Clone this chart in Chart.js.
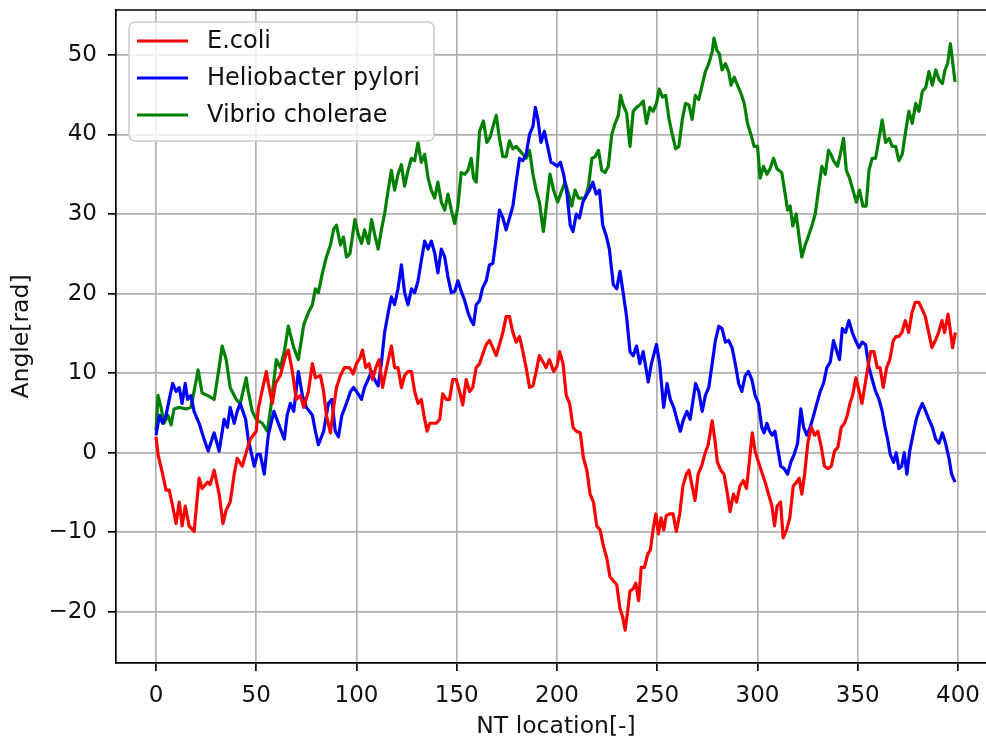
<!DOCTYPE html>
<html>
<head>
<meta charset="utf-8">
<script src="https://cdn.jsdelivr.net/npm/chart.js@4/dist/chart.umd.min.js"></script>
<style>
  html, body { margin: 0; padding: 0; background: #fff; overflow: hidden; }
  #wrap { width: 1010px; height: 742px; }
</style>
</head>
<body>
<div id="wrap"><canvas id="c" width="1010" height="742"></canvas></div>
<script>
// Cumulative angle along the sequence for three bacterial genomes
const ecoliX = [0,1,3.3,5,6.6,8.3,10,11.6,13,14.6,16.5,19,21.5,23,25.7,27,29,31.5,33.4,35,37,39,40.5,43,44.7,47,50,51,53,55,56,58,59.6,62,64.6,66,68,70,72,73.7,76,78,79.5,82,83.6,85,87,88.6,90,92,94,96.5,98.3,100,101.7,103,104.6,106.3,108,109.6,111.3,113,114.6,116.3,117.4,119,120.7,122.4,124,125.7,127.4,129,130.7,132.3,134,135.2,136.5,138.2,139.8,141.5,143,144.8,146.4,148,149.7,151.4,153,154.7,156.4,158,159.7,161.4,163,164.7,166.3,168,169.7,171.3,173,174.6,176.3,178,179.6,181.3,183,184.6,186.3,188,189.6,191.2,193,194.5,196.2,198.3,200,201.3,203,204.6,206.3,208,209.6,211.6,213.2,214.9,216.5,218.2,219.8,221.5,223.1,224.8,226.4,228.1,229.8,231.4,232.7,234,235.4,236.4,238,239.3,240.7,242,243.6,245.3,246.6,247.9,249.3,250.6,251.9,253.2,254.5,256.2,257.9,259.5,261.2,262.8,264.5,265.8,267.4,268.8,270.4,272.1,273.7,275.4,277.4,278.7,280,281.7,283.3,285,286.3,288,289.6,291.2,292.9,294.5,295.9,297.4,298.8,300.5,302.2,303.8,305.5,307.2,308.5,309.8,311.5,312.8,314.5,316.1,317.8,319.5,320.8,322.1,323.5,325.1,326.8,328.5,330.1,331.8,333.4,335.1,336.8,338.4,340.1,341.8,343.4,344.8,346.1,347.4,349.1,350.7,352.1,353.4,354.7,356.4,358.1,359.7,361.1,362.7,364.4,366,367.7,369,370.4,372,373.7,375.4,377,378.7,380.4,382,383.7,385.4,387,388.7,390.3,392,393.3,395,396.3,397.3,398.7];
const ecoliY = [2.0,-0.2,-2.7,-4.7,-4.7,-6.7,-8.9,-6.2,-9.2,-6.7,-9.2,-9.9,-3.2,-4.5,-3.7,-4.0,-2.2,-5.2,-8.9,-7.2,-6.2,-2.7,-0.7,-1.7,-0.2,1.7,2.7,5.5,7.9,10.2,8.7,6.2,8.7,9.7,12.2,12.9,10.2,6.7,7.2,5.7,7.7,11.2,9.4,9.7,7.7,4.7,2.5,5.7,8.2,9.7,10.7,10.7,9.9,11.2,11.9,12.9,10.7,11.2,9.2,10.7,11.7,8.2,10.2,12.2,13.4,10.7,10.7,8.2,9.7,10.2,10.2,7.7,6.2,6.7,4.2,2.7,3.7,3.7,3.7,4.2,7.4,6.7,6.7,9.2,9.2,7.7,6.0,9.2,7.7,8.2,10.7,11.2,12.4,13.6,14.1,13.2,12.2,13.6,15.1,17.1,17.1,15.1,13.9,14.6,12.7,10.7,8.2,8.4,10.2,12.2,11.4,10.7,11.7,10.2,10.9,12.7,11.2,7.2,6.2,3.2,2.7,2.5,-0.7,-2.2,-5.2,-6.2,-9.2,-9.7,-11.7,-13.2,-15.6,-16.1,-16.6,-19.6,-20.6,-22.3,-19.6,-17.4,-17.1,-16.4,-18.6,-14.4,-14.4,-12.7,-12.2,-9.7,-7.7,-10.2,-8.2,-9.7,-7.9,-7.7,-7.7,-9.9,-7.7,-4.2,-2.7,-2.2,-4.2,-6.0,-2.7,-1.7,-0.2,1.0,4.0,1.7,-1.2,-2.2,-2.7,-5.2,-7.4,-5.2,-6.2,-4.2,-3.5,-4.5,-1.2,2.5,0.2,-1.2,-2.5,-3.7,-5.2,-6.7,-9.2,-6.7,-6.2,-10.7,-9.7,-8.2,-4.2,-3.7,-3.2,-5.2,-2.7,1.2,3.2,2.2,2.7,0.7,-1.7,-2.0,-1.7,0.2,0.7,3.2,3.7,4.7,6.2,7.2,9.4,7.7,6.2,8.2,10.2,12.7,12.7,10.7,10.7,8.2,10.7,11.7,14.1,14.6,14.6,15.1,16.6,15.1,17.6,18.9,18.9,18.1,17.1,15.1,13.2,14.1,15.1,16.6,15.1,17.4,15.1,13.2,15.1];

const pyloriX = [0,1.7,3.3,5,6.6,8.3,10,11.6,13,14.6,15.7,17.4,19,21.5,24,26,29,31.5,34,35.6,37,39,40.5,42,44.7,46,49,50.5,52,54,56,58.8,61,64,65.4,67,68.7,71,73,75,78,79.5,81,83.6,86,87.7,89.4,91,92.7,95,97,98.5,100,102.5,104,105.8,107.5,109,110.8,112.4,114,115.8,117.4,119,120.7,122.4,124,125.7,127.4,129,130.7,132.3,134,135.7,137.3,139,140.6,142.3,144,145.6,147.3,149,150.6,152.2,154,155.6,157.2,158.4,159.7,161.4,163,164.7,166.3,168,169.7,171.3,173,174.6,176.3,178,179.6,181.3,183,184.6,186.3,188,189.2,190.4,192,193.7,195.3,197,198.5,200.2,201.7,203.3,205,206.6,208,209.6,211.2,212.9,214.5,216.2,217.9,219.5,221.2,222.8,224.5,226.1,228.1,229.8,231.4,233,234.7,236.4,238,239.7,241.3,243,245.5,247.1,249.6,251.2,253.2,254.9,256.5,258.2,259.8,261.5,263.1,264.8,266.4,267.8,269.1,270.7,272.4,274,275.7,277.4,279,280.7,282.3,284,285.6,287.3,288.9,290.6,292.2,293.9,295.5,297.2,298.8,300.5,302.1,303.3,304.7,306,307.3,308.7,310,311.6,313.3,315,316.6,318.3,320,321.6,323,324.6,326.3,328,329.6,331.3,332.9,334.6,336.3,337.9,339.6,340.9,342.3,343.9,345.6,347.3,348.9,350.6,352.2,353.9,355.6,357.2,358.9,360.6,362.2,363.6,364.9,366.2,367.9,369.2,370.5,371.9,373.2,374.5,375.9,377.5,379.2,380.5,382.2,383.9,385.5,387.2,388.9,390.5,392.2,393.8,395.5,396.8,398.5];
const pyloriY = [2.2,4.7,3.7,4.7,6.7,8.7,7.7,8.2,6.2,8.7,6.7,7.2,5.2,3.7,1.7,0.2,2.5,0.2,4.2,3.2,5.7,3.7,5.2,6.2,4.2,1.7,-1.7,-0.2,-0.2,-2.7,2.2,5.2,3.7,1.7,4.7,6.2,5.2,10.2,7.2,5.7,4.7,2.7,1.0,2.7,6.2,6.7,2.7,2.0,4.7,6.2,7.7,8.2,7.7,6.7,8.2,9.2,10.2,9.2,8.4,11.2,15.1,17.6,19.6,18.6,20.6,23.6,20.1,18.6,20.6,20.1,21.6,24.1,26.6,25.6,26.6,25.1,22.6,25.6,24.6,22.1,20.1,20.3,21.6,20.3,19.1,17.6,16.6,16.1,18.6,19.1,20.8,21.6,23.6,23.8,27.0,30.5,29.5,28.0,29.5,31.0,34.0,37.0,36.7,37.5,40.0,41.0,43.4,42.0,39.0,40.4,38.5,36.5,36.3,36.0,36.5,35.0,32.5,28.6,27.8,30.0,29.5,31.5,32.3,33.0,34.0,32.5,33.0,28.6,27.3,25.6,21.1,20.6,22.8,20.1,17.1,12.7,12.2,13.4,11.2,12.7,8.9,11.2,13.6,11.2,5.7,8.7,6.7,5.7,4.2,2.7,4.2,5.2,4.2,6.5,8.7,7.7,5.2,7.2,8.2,11.2,14.1,15.9,15.6,13.9,14.1,13.2,11.2,8.7,7.7,9.7,10.2,9.2,7.2,6.2,3.2,2.5,3.7,2.7,2.2,2.7,0.7,-1.7,-2.0,-2.7,-1.2,-0.2,1.2,5.5,3.2,2.2,3.2,4.7,6.2,7.7,8.7,10.7,11.4,14.1,12.7,11.7,15.6,15.1,16.6,15.1,14.1,13.2,13.9,13.6,10.7,9.2,7.7,6.7,5.2,3.2,1.7,-0.2,-1.2,0.0,-2.0,-1.7,0.0,-2.7,0.2,2.2,4.2,5.2,6.2,5.2,4.2,3.2,1.7,1.2,2.5,1.2,-0.7,-2.7,-3.7];

const choleraeX = [0,1,2.5,4,6,7.5,9,11.6,15,17.4,19,21,23,25.7,29,31.5,33,35,37,40,42,45,46,48,50,53,55.5,57,60,62,64,66,68.7,71,73.7,76,78,79.5,81,83,85,87,88.6,90,92,93.5,95,96.7,99.2,100.8,102.5,104,106,107.5,109,110.8,112.4,114,115.8,117.4,119,120.7,122.4,124,125.7,127.4,129,130.7,132.3,134,135.7,137.3,139,140.6,142.3,144,145.6,147.3,149,150.6,152.2,154,155.6,157.2,158.4,159.7,161.4,163.3,165,166.7,168.3,169.7,171.3,173,174.6,176.3,178,179.6,181.3,183,184.6,186.3,188,189.6,191.2,193.2,194.9,196.5,198.3,200.3,202.5,204,205.8,207.4,209,210.7,212.4,214,215.7,217.4,219,220.7,222.3,224,225.6,227.3,229,230.6,231.7,233,234.7,236.4,238,239.7,241.3,243,244.6,246.3,248,249.6,251,252.6,254.2,255.9,257.5,259.2,260.8,262.5,264.1,265.8,267.4,269,270.7,272.4,274,275.7,277.4,278.3,279.7,281,282.3,284,285.6,286.8,288.4,290,291.7,293.4,295,296.7,298.3,300,301.3,303,304.7,306.3,308,309.7,312.1,313.8,315,316.3,317.6,319.3,321,322.1,323.8,325.5,327.1,328.8,330.4,332.1,333.8,335.4,336.6,337.9,339.9,341.3,342.9,344.3,345.9,347.6,349.3,350.9,352.6,354.2,355.6,357.2,358.9,360.6,362.2,363.9,365.6,367.2,368.9,370.5,372.2,373.9,375.5,377.2,378.9,380.5,382.2,383.9,385.5,387.2,388.9,390.5,392.2,393.5,394.8,396.2,397.2,398.5];
const choleraeY = [2.7,7.2,5.7,3.7,4.7,3.5,5.5,5.7,5.5,5.7,7.7,10.4,7.5,7.2,6.7,10.7,13.4,11.7,8.2,6.7,6.2,9.4,7.7,5.2,4.2,3.7,2.7,5.2,11.7,10.7,12.7,15.9,13.2,11.7,16.1,17.6,18.6,20.6,20.1,22.6,24.6,26.1,28.1,28.6,26.1,27.1,24.6,25.0,29.3,27.5,26.3,28.0,26.3,29.3,27.5,25.6,28.0,30.0,33.0,35.5,33.0,35.0,36.2,33.5,35.5,37.0,36.7,39.0,36.5,37.5,34.5,33.0,32.0,34.0,31.5,30.5,32.5,30.5,28.8,31.0,35.2,35.0,35.5,37.0,34.5,34.0,40.4,41.7,39.0,39.7,41.2,42.4,39.5,37.2,37.2,39.2,38.2,38.5,38.0,37.5,37.0,38.0,35.0,33.0,31.5,27.8,31.5,35.0,33.0,31.5,33.0,34.0,32.5,31.0,33.0,32.0,32.0,32.0,33.5,37.0,37.2,38.0,35.5,35.2,36.0,40.0,41.4,42.4,44.9,43.7,42.7,38.5,42.9,43.4,43.7,44.2,41.4,43.4,42.9,43.9,45.7,44.7,44.9,41.9,40.0,38.2,38.5,41.9,43.9,43.7,41.9,44.9,44.4,46.2,47.9,48.9,50.4,52.1,50.6,50.1,48.1,48.9,47.9,46.2,47.2,46.2,45.2,43.9,41.4,40.0,38.5,38.5,34.5,36.0,35.0,35.7,37.0,35.7,35.2,32.5,30.5,31.0,28.5,30.0,26.6,24.6,26.1,27.3,28.5,30.0,33.0,36.0,35.0,38.0,37.5,36.7,36.0,37.5,39.5,35.5,34.5,33.0,31.5,33.0,31.0,31.0,35.5,37.0,37.0,39.5,41.8,39.0,39.5,38.5,38.5,36.7,37.5,40.4,42.9,41.4,43.9,42.9,45.4,45.9,47.9,46.2,48.1,46.9,46.4,48.1,48.9,51.4,49.4,46.6];

const seriesNames = ['E.coli', 'Heliobacter pylori', 'Vibrio cholerae'];
const seriesColors = ['#ff0000', '#0000ff', '#008000'];

const xTicks = [0, 50, 100, 150, 200, 250, 300, 350, 400];
const yTicks = [-20, -10, 0, 10, 20, 30, 40, 50];

const FONT = '"DejaVu Sans", "Liberation Sans", sans-serif';
const pairs = (xs, ys) => xs.map((x, i) => ({ x: x, y: ys[i] }));
const fmt = v => (v < 0 ? '\u2212' + Math.abs(v) : String(v));

// frame line along the top of the plot area
const topSpine = {
  id: 'topSpine',
  afterDraw(chart) {
    const { ctx, chartArea } = chart;
    ctx.save();
    ctx.strokeStyle = '#000';
    ctx.lineWidth = 1.7;
    ctx.beginPath();
    ctx.moveTo(chartArea.left, chartArea.top);
    ctx.lineTo(chartArea.right, chartArea.top);
    ctx.stroke();
    ctx.restore();
  }
};

// boxed legend inside the upper-left corner of the plot
const innerLegend = {
  id: 'innerLegend',
  afterDatasetsDraw(chart) {
    const { ctx, chartArea } = chart;
    const sets = chart.data.datasets;
    const fs = 24;
    ctx.save();
    ctx.font = fs + 'px ' + FONT;
    const textW = Math.max(...sets.map(d => ctx.measureText(d.label).width));
    const bx = chartArea.left + 13, by = chartArea.top + 12;
    const bw = 78 + textW + 14, bh = 119, r = 6;
    ctx.beginPath();
    ctx.moveTo(bx + r, by);
    ctx.arcTo(bx + bw, by, bx + bw, by + bh, r);
    ctx.arcTo(bx + bw, by + bh, bx, by + bh, r);
    ctx.arcTo(bx, by + bh, bx, by, r);
    ctx.arcTo(bx, by, bx + bw, by, r);
    ctx.closePath();
    ctx.fillStyle = 'rgba(255,255,255,0.8)';
    ctx.fill();
    ctx.strokeStyle = '#cccccc';
    ctx.lineWidth = 1.5;
    ctx.stroke();
    sets.forEach((d, i) => {
      const ry = by + 19 + i * 37;
      ctx.strokeStyle = d.borderColor;
      ctx.lineWidth = 3.2;
      ctx.beginPath();
      ctx.moveTo(bx + 8, ry);
      ctx.lineTo(bx + 59, ry);
      ctx.stroke();
      ctx.fillStyle = '#111';
      ctx.textBaseline = 'middle';
      ctx.textAlign = 'left';
      ctx.fillText(d.label, bx + 78, ry + 1);
    });
    ctx.restore();
  }
};

const lineSet = (label, color, xs, ys) => ({
  label: label,
  data: pairs(xs, ys),
  borderColor: color,
  backgroundColor: color,
  borderWidth: 3.2,
  borderJoinStyle: 'round',
  pointRadius: 0,
  pointHoverRadius: 0,
  tension: 0,
  fill: false
});

new Chart(document.getElementById('c'), {
  type: 'line',
  data: {
    datasets: [
      lineSet(seriesNames[0], seriesColors[0], ecoliX, ecoliY),
      lineSet(seriesNames[1], seriesColors[1], pyloriX, pyloriY),
      lineSet(seriesNames[2], seriesColors[2], choleraeX, choleraeY)
    ]
  },
  options: {
    responsive: false,
    animation: false,
    devicePixelRatio: 1,
    layout: { padding: { top: 10, left: 0, right: 14, bottom: 0 } },
    plugins: { legend: { display: false }, tooltip: { enabled: false } },
    scales: {
      x: {
        type: 'linear',
        min: -19.95,
        max: 418.95,
        afterBuildTicks: s => { s.ticks = xTicks.map(v => ({ value: v })); },
        afterFit: s => { s.height = 79; s.paddingLeft = 0; s.paddingRight = 0; },
        ticks: {
          autoSkip: false, maxRotation: 0, padding: 11,
          color: '#111', font: { family: FONT, size: 23 },
          callback: v => fmt(v)
        },
        grid: { color: '#b0b0b0', lineWidth: 1.7, tickLength: 8, tickColor: '#000', tickWidth: 1.7 },
        border: { display: true, color: '#000', width: 1.7 },
        title: {
          display: true, text: 'NT location[-]', color: '#111',
          font: { family: FONT, size: 23.5 }, padding: { top: 0, bottom: 1 }
        }
      },
      y: {
        type: 'linear',
        min: -26.43,
        max: 55.64,
        afterBuildTicks: s => { s.ticks = yTicks.map(v => ({ value: v })); },
        afterFit: s => { s.width = 116; s.paddingTop = 0; s.paddingBottom = 0; },
        ticks: {
          autoSkip: false, padding: 11,
          color: '#111', font: { family: FONT, size: 23 },
          callback: v => fmt(v)
        },
        grid: { color: '#b0b0b0', lineWidth: 1.7, tickLength: 8, tickColor: '#000', tickWidth: 1.7 },
        border: { display: true, color: '#000', width: 1.7 },
        title: {
          display: true, text: 'Angle[rad]', color: '#111',
          font: { family: FONT, size: 23.5 }, padding: { top: 8, bottom: 0 }
        }
      }
    }
  },
  plugins: [topSpine, innerLegend]
});
</script>
</body>
</html>
